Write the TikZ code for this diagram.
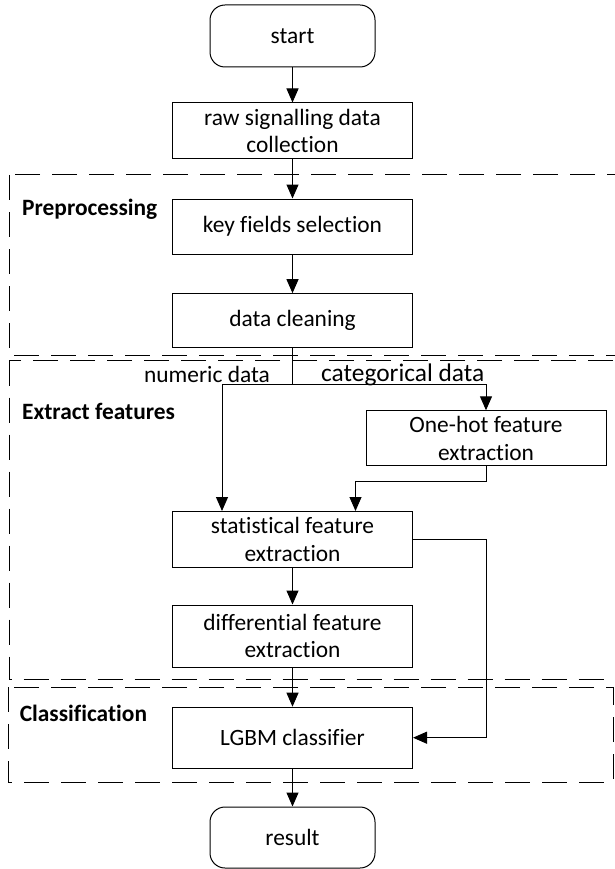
\documentclass[tikz,border=0pt]{standalone}
\usepackage{fontspec}
\setmainfont{Carlito}[Ligatures=NoCommon]
\usetikzlibrary{arrows.meta,calc,positioning}
\begin{document}
\begin{tikzpicture}[x=1pt,y=-1pt,
  font=\fontsize{23.4}{27.5}\selectfont,
  box/.style={draw,line width=1pt,minimum width=240pt,align=center,inner sep=0pt},
  term/.style={draw,line width=1pt,rounded corners=15pt,minimum width=165pt,minimum height=62pt,align=center},
  arr/.style={line width=1pt,-{Triangle[length=14pt,width=12pt]}},
  ln/.style={line width=1pt},
  region/.style={line width=1pt,dash pattern=on 25pt off 12pt},
  sect/.style={font=\fontsize{23.4}{27}\selectfont\bfseries,anchor=west,inner sep=0pt},
  lab/.style={inner sep=0pt}]
\useasboundingbox (0,0) rectangle (614,869);
% regions
\draw[region] (9,175) rectangle (640,355);
\draw[region] (9,360.5) rectangle (640,679);
\draw[region] (8,687) rectangle (613,782);
% nodes
\node[term] (start) at (292.5,36) {start};
\node[box,minimum height=56pt] (raw) at (292.5,131) {raw signalling data\\collection};
\node[box,minimum height=55pt] (key) at (292.5,226.5) {key fields selection};
\node[box,minimum height=54pt] (clean) at (292.5,320.7) {data cleaning};
\node[box,minimum height=55pt] (onehot) at (486,438.3) {One-hot feature\\extraction};
\node[box,minimum height=56pt] (stat) at (292.5,539.5) {statistical feature\\extraction};
\node[box,minimum height=62pt] (diff) at (292.5,636) {differential feature\\extraction};
\node[box,minimum height=61pt] (lgbm) at (292.5,737.7) {LGBM classifier};
\node[term,minimum height=61pt] (result) at (292.5,837.5) {result};
% labels
\node[sect] (pre) at (22,209) {Preprocessing};
\node[sect] (ext) at (22,411) {Extract features};
\node[sect] (cls) at (19.6,713) {Classification};
\node[lab,anchor=east,font=\fontsize{23.4}{27}\selectfont] (num) at (270,374) {numeric data};
\node[lab,anchor=west,font=\fontsize{25.4}{29}\selectfont] (cat) at (321,375) {categorical data};
% connectors
\coordinate (split) at (292.5,384);
\draw[arr] (start) -- (raw);
\draw[arr] (raw) -- (key);
\draw[arr] (key) -- (clean);
\draw[ln] (clean.south) -- (split);
\draw[arr] (split) -| ($(stat.north west)+(50,0)$);
\draw[arr] (split) -| (onehot.north);
\draw[arr] (onehot.south) -- ++(0,15) -| ($(stat.north west)+(183.5,0)$);
\draw[arr] (stat.east) -- (stat.east -| onehot.south) |- (lgbm.east);
\draw[arr] (stat) -- (diff);
\draw[arr] (diff) -- (lgbm);
\draw[arr] (lgbm) -- (result);
\end{tikzpicture}
\end{document}
